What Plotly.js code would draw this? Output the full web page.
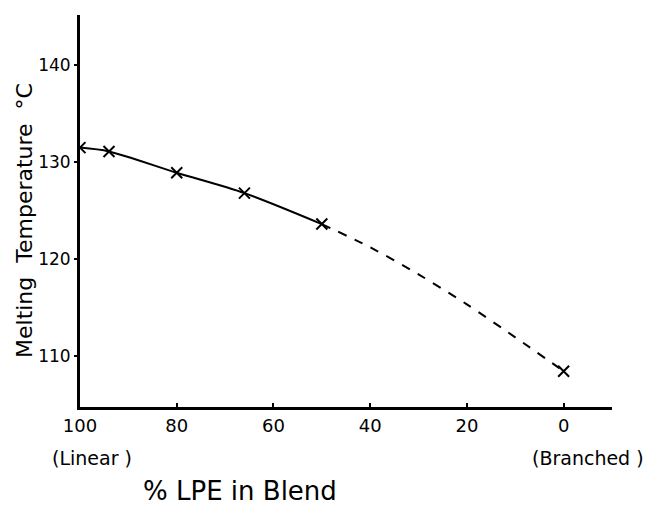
<!DOCTYPE html>
<html><head><meta charset="utf-8">
<script src="https://cdn.plot.ly/plotly-3.0.1.min.js"></script>
<style>body{margin:0;background:#fff}#c{width:654px;height:509px}</style>
</head><body><div id="c"></div>
<script>
// measured points (% LPE, melting temperature °C)
var pctMeasured = [100, 94, 80, 66, 50, 0];
var tempMeasured = [131.5, 131.1, 128.9, 126.8, 123.6, 108.4];
// solid fitted curve through the measured blends
var pctSolid = [100, 94, 80, 66, 50];
var tempSolid = [131.5, 131.1, 128.9, 126.8, 123.6];
// dashed extrapolated curve
var pctDashed = [50, 40, 30, 20, 10, 0];
var tempDashed = [123.6, 121.2, 118.4, 115.3, 111.9, 108.4];
var xTicks = [100, 80, 60, 40, 20, 0];
var yTicks = [110, 120, 130, 140];

var F = "DejaVu Sans, sans-serif";
var traces = [
  {x: pctSolid, y: tempSolid, mode: 'lines', line: {color: '#000', width: 2, shape: 'spline', smoothing: 0.8}, hoverinfo: 'skip'},
  {x: pctDashed, y: tempDashed, mode: 'lines', line: {color: '#000', width: 2, dash: '9px,9px', shape: 'spline', smoothing: 0.8}, hoverinfo: 'skip'},
  {x: pctMeasured, y: tempMeasured, mode: 'markers', marker: {symbol: 'x-thin-open', size: 11, color: '#000', line: {color: '#000', width: 2}}}
];
var layout = {
  width: 654, height: 509,
  margin: {l: 80, r: 42, t: 15, b: 102},
  paper_bgcolor: '#fff', plot_bgcolor: '#fff',
  showlegend: false,
  font: {family: F, color: '#000'},
  xaxis: {range: [100, -10], tickvals: xTicks, ticktext: xTicks.map(String), showgrid: false, zeroline: false,
    showline: true, linecolor: '#000', linewidth: 3, ticks: 'inside', ticklen: 4, tickwidth: 2, tickcolor: '#000',
    tickfont: {size: 18, family: F}},
  yaxis: {range: [104.7, 145.2], tickvals: yTicks, ticktext: yTicks.map(String), showgrid: false, zeroline: false,
    showline: true, linecolor: '#000', linewidth: 3, ticks: 'outside', ticklen: 3, tickwidth: 2, tickcolor: '#000',
    tickfont: {size: 17, family: F}},
  annotations: [
    {text: 'Melting  Temperature  °C', textangle: -90, xref: 'paper', yref: 'paper', x: (24 - 80) / 532, xanchor: 'center', y: (407 - 221) / 392, yanchor: 'middle', showarrow: false, font: {size: 22, family: F}},
    {text: '(Linear )', xref: 'paper', yref: 'paper', x: (92 - 80) / 532, xanchor: 'center', y: -0.13, yanchor: 'middle', showarrow: false, font: {size: 19, family: F}},
    {text: '(Branched )', xref: 'paper', yref: 'paper', x: (588 - 80) / 532, xanchor: 'center', y: -0.13, yanchor: 'middle', showarrow: false, font: {size: 19, family: F}},
    {text: '% LPE in Blend', xref: 'paper', yref: 'paper', x: (240 - 80) / 532, xanchor: 'center', y: -0.215, yanchor: 'middle', showarrow: false, font: {size: 26, family: F}}
  ]
};
Plotly.newPlot('c', traces, layout, {displayModeBar: false, staticPlot: true});
</script></body></html>
